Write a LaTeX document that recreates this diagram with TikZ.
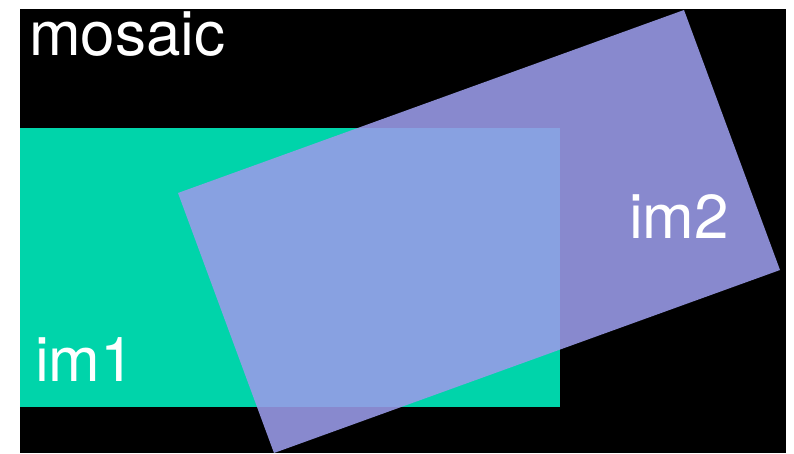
\documentclass[tikz,border=0pt]{standalone}
\usepackage{fontspec}
\setmainfont{TeX Gyre Heros}
\definecolor{bgblack}{RGB}{0,0,0}
\definecolor{imgreen}{RGB}{0,212,170}
\definecolor{impurple}{RGB}{153,155,232}
\begin{document}
\begin{tikzpicture}[x=1pt,y=-1pt,
  lbl/.style={anchor=base west,inner sep=0pt,text=white,font=\fontsize{62}{62}\selectfont}]
\useasboundingbox (0,0) rectangle (794,453);
\fill[bgblack] (20,9) rectangle (786,453);
\fill[imgreen] (20,128) rectangle (560,407);
\fill[impurple,opacity=0.89] (178,193) -- (684,10) -- (780,270) -- (274,453) -- cycle;
\node[lbl] (mosaic) at (29,55) {mosaic};
\node[lbl] (im1) at (35,381) {im1};
\node[lbl] (im2) at (629,238) {im2};
\end{tikzpicture}
\end{document}
